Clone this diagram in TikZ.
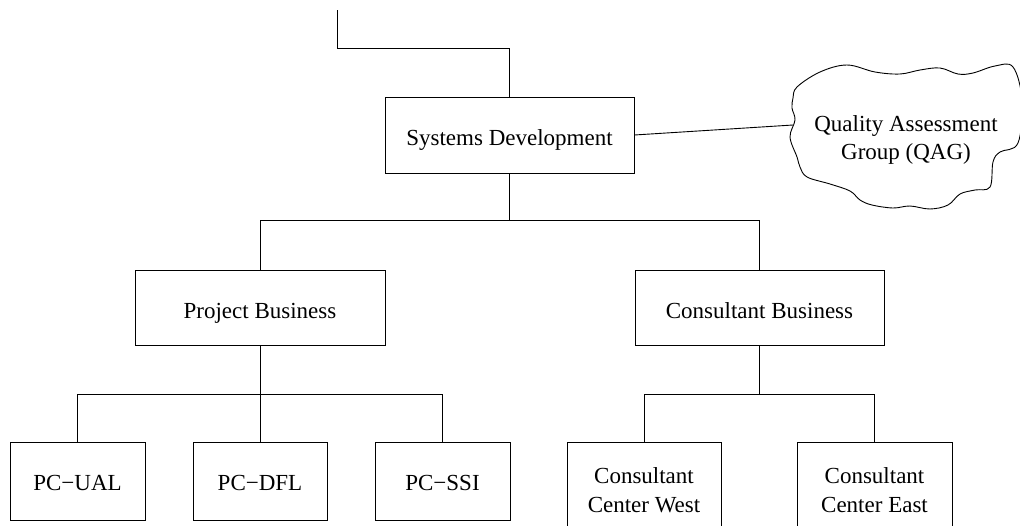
\documentclass[tikz,border=0pt]{standalone}
\usepackage{fontspec}
\setmainfont{Liberation Serif}
\begin{document}
\begin{tikzpicture}[x=1pt,y=-1pt,
  unit/.style={draw, line width=0.9pt, inner sep=0pt, align=center,
    font=\fontsize{23}{29}\selectfont},
  oneline/.style={text height=21pt, text depth=0pt},
  link/.style={line width=0.9pt}]
\useasboundingbox (0,0) rectangle (1020,525);
\clip (0,0) rectangle (1020,525);

% organisation units
\node[unit, oneline, minimum width=249pt, minimum height=76pt] (sd) at (509.5,135) {Systems Development};
\node[unit, oneline, minimum width=250pt, minimum height=75pt] (pb) at (260,307.5) {Project Business};
\node[unit, oneline, minimum width=249pt, minimum height=75pt] (cb) at (759.5,307.5) {Consultant Business};
\node[unit, oneline, text height=18pt, minimum width=135pt, minimum height=78pt] (ual) at (77.5,481) {PC−UAL};
\node[unit, oneline, text height=18pt, minimum width=134pt, minimum height=78pt] (dfl) at (260,481) {PC−DFL};
\node[unit, oneline, text height=18pt, minimum width=135pt, minimum height=78pt] (ssi) at (442.5,481) {PC−SSI};
\node[unit, minimum width=154pt, minimum height=96pt] (ccw) at (644,490) {Consultant\\Center West};
\node[unit, minimum width=155pt, minimum height=96pt] (cce) at (874.5,490) {Consultant\\Center East};

% quality group cloud
\draw[line width=0.9pt] plot[smooth cycle, tension=0.6] coordinates {
  (797,87) (820,72) (847,65) (875,72) (900,74) (920,70) (940,68) (958,74)
  (973,73) (995,66) (1013,67) (1022,100) (1018,143) (1000,152) (993,162)
  (990,187) (975,190) (960,194) (948,205) (930,209) (910,206) (893,208)
  (872,205) (860,200) (850,191) (830,184) (807,177) (800,167) (797,157)
  (790,137) (795,120) (792,108) (793,98)};
\node[align=center, font=\fontsize{23}{28}\selectfont] (qag) at (906,140) {Quality Assessment\\Group (QAG)};
\coordinate (qagedge) at (793,125);

% connectors
\coordinate (top) at (337,10);
\draw[link] (top) -- ++(0,38) -| (sd.north);
\draw[link] (sd.east) -- (qagedge);
\draw[link] (sd.south) -- ++(0,47) -| (pb.north);
\draw[link] (sd.south) -- ++(0,47) -| (cb.north);
\draw[link] (pb.south) -- ++(0,49) -| (ual.north);
\draw[link] (pb.south) -- (dfl.north);
\draw[link] (pb.south) -- ++(0,49) -| (ssi.north);
\draw[link] (cb.south) -- ++(0,49) -| (ccw.north);
\draw[link] (cb.south) -- ++(0,49) -| (cce.north);
\end{tikzpicture}
\end{document}
